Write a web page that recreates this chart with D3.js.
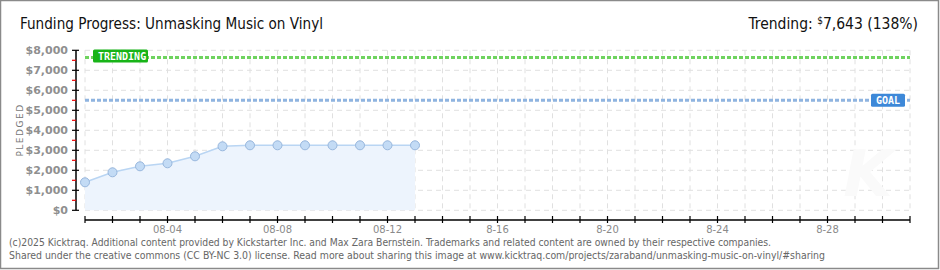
<!DOCTYPE html>
<html><head><meta charset="utf-8">
<script src="https://cdn.jsdelivr.net/npm/d3@7"></script>
<style>body{margin:0;background:#fff}svg{display:block}</style>
</head><body>
<svg id="c" width="940" height="270"></svg>
<script>
const dates = ["2025-08-01","2025-08-02","2025-08-03","2025-08-04","2025-08-05","2025-08-06","2025-08-07","2025-08-08","2025-08-09","2025-08-10","2025-08-11","2025-08-12","2025-08-13"];
const pledged = [1400,1900,2200,2350,2700,3200,3250,3250,3250,3250,3250,3250,3250];
const goal = 5500;
const trending = 7643;
const trendingPct = 138;
const yTicks = [0,1000,2000,3000,4000,5000,6000,7000,8000];
const xLabelDays = ["2025-08-04","2025-08-08","2025-08-12","2025-08-16","2025-08-20","2025-08-24","2025-08-28"];
const xLabelText = ["08-04","08-08","08-12","8-16","8-20","8-24","8-28"];
const titleText = "Funding Progress: Unmasking Music on Vinyl";
const footer1 = "(c)2025 Kicktraq. Additional content provided by Kickstarter Inc. and Max Zara Bernstein. Trademarks and related content are owned by their respective companies.";
const footer2 = "Shared under the creative commons (CC BY-NC 3.0) license. Read more about sharing this image at www.kicktraq.com/projects/zaraband/unmasking-music-on-vinyl/#sharing";

const parse = d3.utcParse("%Y-%m-%d");
const svg = d3.select("#c");
const x = d3.scaleUtc().domain([parse("2025-08-01"), parse("2025-08-31")]).range([85,910]);
const y = d3.scaleLinear().domain([0,8000]).range([210.3,50.3]);

// frame
svg.append("rect").attr("x",0.5).attr("y",0.5).attr("width",938).attr("height",268)
  .attr("fill","#fff").attr("stroke","#8a8a8a").attr("stroke-width",1.5);

const tfont = "'Liberation Sans Narrow','DejaVu Sans Condensed',sans-serif";
// title
svg.append("text").attr("x",20).attr("y",29).attr("font-family",tfont)
  .attr("font-size",15.5).attr("fill","#111").attr("textLength",303).attr("lengthAdjust","spacingAndGlyphs").text(titleText);
const tr = svg.append("text").attr("x",918).attr("y",29).attr("text-anchor","end")
  .attr("font-family",tfont).attr("font-size",15.5).attr("fill","#111");
tr.append("tspan").text("Trending:  ");
tr.append("tspan").attr("font-size",10).attr("dy",-5).text("$");
tr.append("tspan").attr("dy",5).text(d3.format(",")(trending)+" ("+trendingPct+"%)");

const days = d3.utcDay.range(parse("2025-08-01"), d3.utcDay.offset(parse("2025-08-31"),1));

// grid
const g = svg.append("g");
g.selectAll(".vg").data(days).join("line")
  .attr("x1",d=>x(d)).attr("x2",d=>x(d)).attr("y1",y(8000)).attr("y2",y(0))
  .attr("stroke","#e0e0e0").attr("stroke-dasharray","5,4");
g.selectAll(".hg").data(yTicks).join("line")
  .attr("x1",85).attr("x2",910).attr("y1",d=>y(d)).attr("y2",d=>y(d))
  .attr("stroke","#e0e0e0").attr("stroke-dasharray","5,4");

// watermark
svg.append("text").attr("x",868).attr("y",196).attr("text-anchor","middle")
  .attr("font-family","'DejaVu Sans',sans-serif").attr("font-style","italic").attr("font-weight","bold")
  .attr("font-size",64).attr("fill","#fafafa").text("K");

// area + line
const data = dates.map((d,i)=>({d:parse(d),v:pledged[i]}));
svg.append("path").datum(data)
  .attr("d", d3.area().x(d=>x(d.d)).y0(y(0)).y1(d=>y(d.v)))
  .attr("fill","#edf4fd");
svg.append("path").datum(data)
  .attr("d", d3.line().x(d=>x(d.d)).y(d=>y(d.v)))
  .attr("fill","none").attr("stroke","#b9d5f3").attr("stroke-width",1.5);

// goal & trending lines
svg.append("line").attr("x1",85).attr("x2",910).attr("y1",y(trending)).attr("y2",y(trending))
  .attr("stroke","#6fd35f").attr("stroke-width",3).attr("stroke-dasharray","4,2");
svg.append("line").attr("x1",85).attr("x2",910).attr("y1",y(goal)).attr("y2",y(goal))
  .attr("stroke","#8fb4e0").attr("stroke-width",3).attr("stroke-dasharray","4,2");

// points
svg.selectAll(".pt").data(data).join("circle")
  .attr("cx",d=>x(d.d)).attr("cy",d=>y(d.v)).attr("r",4.5)
  .attr("fill","#c3dbf5").attr("stroke","#98b7dd").attr("stroke-width",1);

// labels
function tag(xc, yc, w, txt, col){
  svg.append("rect").attr("x",xc).attr("y",yc-6.5).attr("width",w).attr("height",13).attr("rx",1.5)
    .attr("fill",col);
  svg.append("text").attr("x",xc+5).attr("y",yc+4).attr("font-family","'DejaVu Sans Mono',monospace")
    .attr("font-weight","bold").attr("font-size",10).attr("fill","#fff").text(txt);
}
tag(93, y(trending)-1.5, 55, "TRENDING", "#18b418");
tag(871, y(goal), 34, "GOAL", "#3d88d8");

// y axis
const yAx = svg.append("g");
yAx.append("line").attr("x1",76).attr("x2",76).attr("y1",y(8000)).attr("y2",y(0)).attr("stroke","#000").attr("stroke-width",1.5);
yAx.selectAll(".yt").data(yTicks).join("line")
  .attr("x1",72).attr("x2",79).attr("y1",d=>y(d)).attr("y2",d=>y(d)).attr("stroke","#000").attr("stroke-width",1.2);
yAx.selectAll(".ym").data(yTicks.slice(0,-1)).join("line")
  .attr("x1",72).attr("x2",76).attr("y1",d=>y(d+500)).attr("y2",d=>y(d+500)).attr("stroke","#e00").attr("stroke-width",1.2);
yAx.selectAll(".yl").data(yTicks).join("text")
  .attr("x",68).attr("y",d=>y(d)+4).attr("text-anchor","end")
  .attr("font-family","'DejaVu Sans',sans-serif").attr("font-weight","bold").attr("font-size",11).attr("fill","#8f8f8f")
  .text(d=>"$"+d3.format(",")(d));
svg.append("text").attr("transform","translate(23,130) rotate(-90)").attr("text-anchor","middle")
  .attr("font-family","'DejaVu Sans',sans-serif").attr("font-size",9).attr("letter-spacing",1.5).attr("fill","#777").text("PLEDGED");

// x axis
const xAx = svg.append("g");
xAx.append("line").attr("x1",85).attr("x2",910).attr("y1",220).attr("y2",220).attr("stroke","#000").attr("stroke-width",1.5);
xAx.selectAll(".xt").data(days).join("line")
  .attr("x1",d=>x(d)).attr("x2",d=>x(d)).attr("y1",216).attr("y2",223).attr("stroke","#000").attr("stroke-width",1.2);
xAx.selectAll(".xl").data(xLabelDays).join("text")
  .attr("x",d=>x(parse(d))).attr("y",233).attr("text-anchor","middle")
  .attr("font-family","'DejaVu Sans',sans-serif").attr("font-size",10).attr("fill","#8a8a8a")
  .text((d,i)=>xLabelText[i]);

// footer
const ffont = "'DejaVu Sans Condensed',sans-serif";
svg.append("text").attr("x",9).attr("y",246).attr("font-family",ffont)
  .attr("font-size",10).attr("fill","#666").attr("textLength",762).attr("lengthAdjust","spacingAndGlyphs").text(footer1);
svg.append("text").attr("x",9).attr("y",259).attr("font-family",ffont)
  .attr("font-size",10).attr("fill","#666").attr("textLength",816).attr("lengthAdjust","spacingAndGlyphs").text(footer2);
</script>
</body></html>
